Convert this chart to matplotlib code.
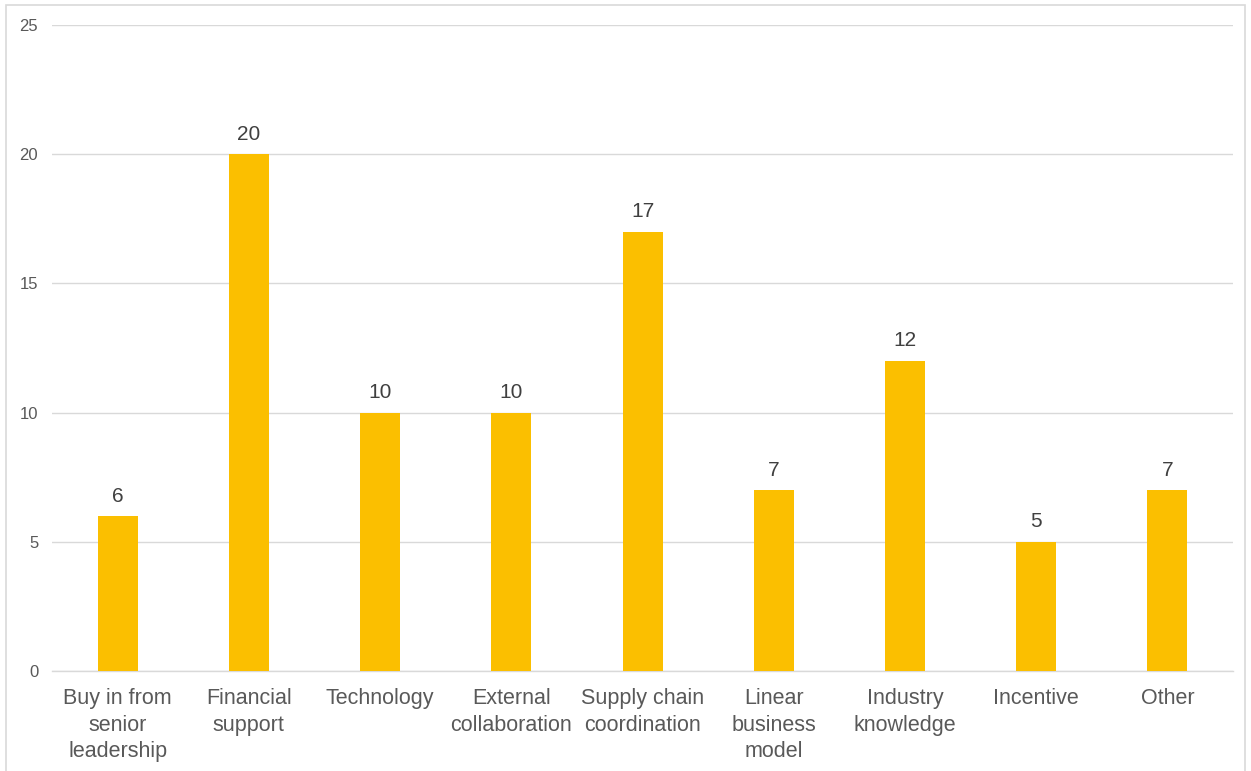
import matplotlib.pyplot as plt
from matplotlib.patches import Rectangle

plt.rcParams['font.family'] = ['Liberation Sans', 'DejaVu Sans']

categories = ["Buy in from\nsenior\nleadership", "Financial\nsupport", "Technology",
              "External\ncollaboration", "Supply chain\ncoordination", "Linear\nbusiness\nmodel",
              "Industry\nknowledge", "Incentive", "Other"]
counts = [6, 20, 10, 10, 17, 7, 12, 5, 7]
yticks = [0, 5, 10, 15, 20, 25]

text_color = '#595959'
bar_color = '#FBBF00'
grid_color = '#D9D9D9'

fig = plt.figure(figsize=(12.51, 7.71), dpi=100)
ax = fig.add_axes([0.0416, 0.1297, 0.9440, 0.8379])

x = list(range(len(categories)))
bars = ax.bar(x, counts, width=0.305, color=bar_color, zorder=3)

for xi, v in zip(x, counts):
    ax.annotate(str(v), (xi, v), xytext=(0, 7.5), textcoords='offset points',
                ha='center', va='bottom', fontsize=15, color='#404040')

ax.set_xlim(-0.5, len(categories) - 0.5)
ax.set_ylim(0, 25)
ax.set_yticks(yticks)
ax.set_xticks(x)
ax.set_xticklabels(categories, fontsize=15.5, color=text_color, linespacing=1.34)
ax.tick_params(axis='y', labelsize=12, labelcolor=text_color, length=0, pad=10)
ax.tick_params(axis='x', length=0, pad=12.5)
ax.yaxis.grid(True, color=grid_color, linewidth=1, zorder=0)
for s in ['top', 'right', 'left']:
    ax.spines[s].set_visible(False)
ax.spines['bottom'].set_color(grid_color)
ax.spines['bottom'].set_linewidth(1)

# light outer frame of the chart area
fig.patches.append(Rectangle((0.005, -0.01), 0.99, 1.004, transform=fig.transFigure,
                             fill=False, edgecolor='#D9D9D9', linewidth=1.2))

fig.savefig('out.png', dpi=100)
